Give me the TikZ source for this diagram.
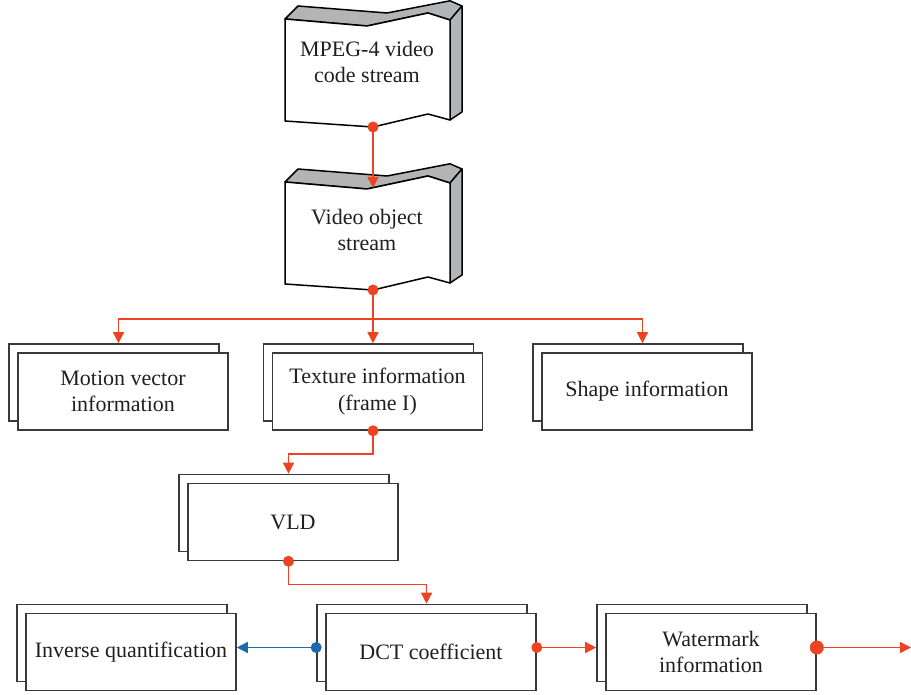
\documentclass[tikz,border=0pt]{standalone}
\usepackage{fontspec}
\setmainfont{Liberation Serif}
\usetikzlibrary{arrows.meta,calc}
\definecolor{rd}{HTML}{EE4322}
\definecolor{bu}{HTML}{1B6AAE}
\definecolor{gr}{HTML}{B3B4B6}
\definecolor{boxc}{HTML}{3A3A3A}
\definecolor{txt}{HTML}{231F20}
\newcommand\tapeshape{%
  \filldraw[fill=gr,sh] (285,19)--(298,6)--(387,13)--(450,0.8)--(462,6)--(450,20)--(428,13)--(367,26)--cycle;
  \filldraw[fill=gr,sh] (450,20)--(462,6)--(462,112)--(450,120)--cycle;
  \filldraw[fill=white,sh] (285,19)--(367,26)--(428,13)--(450,20)--(450,120)--(428,114)--(373,127)--(285,121)--cycle;
}
\begin{document}
\begin{tikzpicture}[x=1pt,y=-1pt,
  sh/.style={draw=black, line width=1.5pt, line join=round},
  box/.style={draw=boxc, line width=1.6pt, fill=white, minimum width=210pt, minimum height=77pt,
    inner sep=0pt, align=center, text=txt, font=\fontsize{22}{26.5}\selectfont},
  lbl/.style={align=center, text=txt, font=\fontsize{22}{26.5}\selectfont, inner sep=0pt},
  rl/.style={draw=rd, line width=1.5pt},
  bl/.style={draw=bu, line width=1.5pt},
  tip/.style={-{Triangle[length=11pt,width=11pt]}}]
\useasboundingbox (0,0) rectangle (911,695);

% stream shapes
\tapeshape
\node[lbl] (s1) at (367,62) {MPEG-4 video\\code stream};
\coordinate (s1b) at (373,127);
\begin{scope}[yshift=-163pt]
  \tapeshape
  \node[lbl] (s2) at (367,67) {Video object\\stream};
  \coordinate (s2t) at (373,25);
  \coordinate (s2b) at (373,127);
\end{scope}

% double boxes: back then front
\node[box] (mvb) at (114,382.5) {};
\node[box] (mv) at (123,391.5) {Motion vector\\information};
\node[box] (texb) at (368.5,382.5) {};
\node[box] (tex) at (377.5,391.5) {Texture information\\(frame I)};
\node[box] (shpb) at (638,382.5) {};
\node[box] (shp) at (647,391.5) {Shape information};
\node[box] (vldb) at (284,513) {};
\node[box] (vld) at (293,522) {VLD};
\node[box] (invb) at (122,643) {};
\node[box] (inv) at (131,652) {Inverse quantification};
\node[box] (dctb) at (422,643) {};
\node[box] (dct) at (431,652) {DCT coefficient};
\node[box] (wmb) at (702,643) {};
\node[box] (wm) at (711,652) {Watermark\\information};

\coordinate (hub) at (373,319);
\coordinate (out) at (911,647.5);

% connectors
\draw[rl,tip] (s1b) -- (s2t);
\draw[rl] (s2b) -- (hub);
\draw[rl,tip] (hub) -| ([xshift=4.5pt]mvb.north);
\draw[rl,tip] (hub) -- ([xshift=4.5pt]texb.north);
\draw[rl,tip] (hub) -| ([xshift=4.5pt]shpb.north);
\draw[rl,tip] ([xshift=-4.5pt]tex.south) -- ++(0,23) -| ([xshift=4.5pt]vldb.north);
\draw[rl,tip] ([xshift=-4.5pt]vld.south) -- ++(0,23) -| ([xshift=4.5pt]dctb.north);
\draw[bl,tip] ([yshift=-4.5pt]dctb.west) -- ([yshift=4.5pt]inv.east);
\draw[rl,tip] ([yshift=4.5pt]dct.east) -- ([yshift=-4.5pt]wmb.west);
\draw[rl,tip] ([yshift=4.5pt]wm.east) -- (out);

% dots
\fill[rd] (s1b) circle[radius=5.5pt];
\fill[rd] (s2b) circle[radius=5.5pt];
\fill[rd] ([xshift=-4.5pt]tex.south) circle[radius=5.5pt];
\fill[rd] ([xshift=-4.5pt]vld.south) circle[radius=5.5pt];
\fill[bu] ([yshift=-4.5pt]dctb.west) circle[radius=5.5pt];
\fill[rd] ([yshift=4.5pt]dct.east) circle[radius=5.5pt];
\fill[rd] ([yshift=4.5pt]wm.east) circle[radius=7pt];
\end{tikzpicture}
\end{document}
